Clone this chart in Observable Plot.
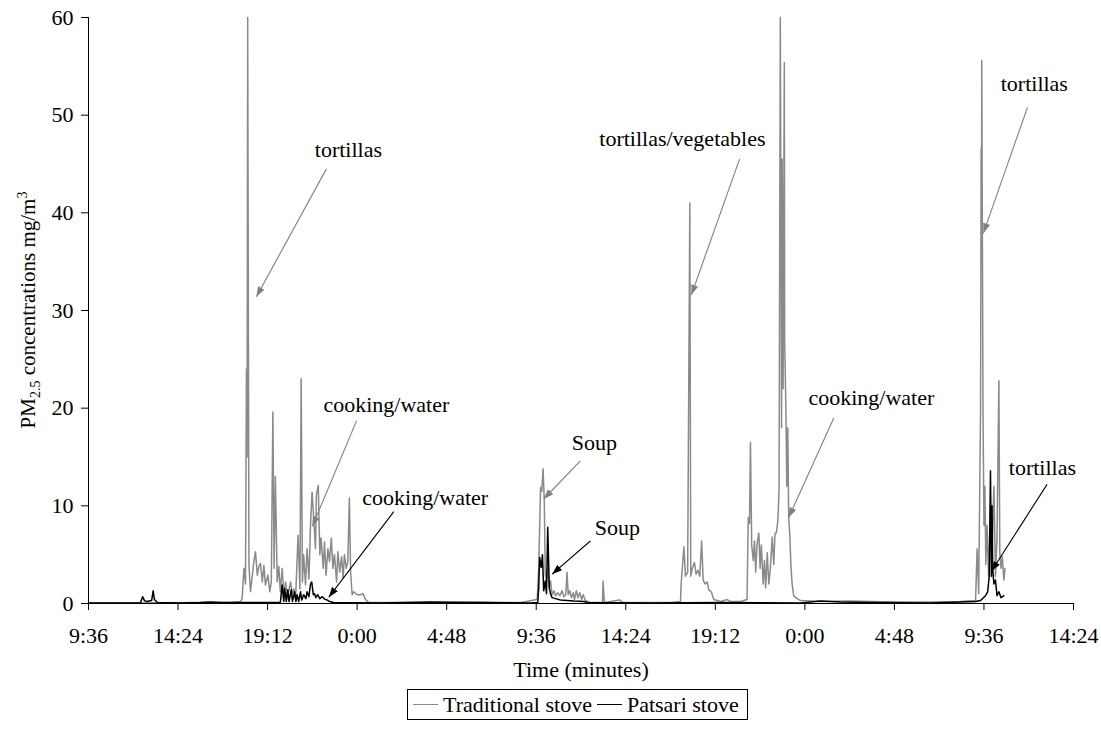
<!DOCTYPE html>
<html>
<head>
<meta charset="utf-8">
<script src="https://cdn.jsdelivr.net/npm/d3@7"></script>
<script src="https://cdn.jsdelivr.net/npm/@observablehq/plot@0.6"></script>
<style>
  body { margin: 0; background: #fff; font-family: 'Liberation Serif', 'Times New Roman', serif; }
  #chart svg { display: block; }
  #legend {
    margin-left: 407px; margin-top: 3px; width: 341px; height: 31px;
    box-sizing: border-box; border: 1px solid #000;
    display: flex; align-items: center; font-size: 22px; color: #000;
    white-space: nowrap;
  }
  .sw { display: inline-block; width: 25px; height: 0; margin: 0 5px 0 5px; }
</style>
</head>
<body>
<div id="chart"></div>
<div id="legend"></div>
<script>
// ---- data: minutes elapsed since 9:36 on day 1, PM2.5 in mg/m3 ----
const seriesNames = ["Traditional stove", "Patsari stove"];
const seriesColors = ["#8a8a8a", "#000000"];

const traditional = [
[0,0.05],[103,0.05],[232,0.08],[360,0.1],[457,0.1],[489,0.2],[494,0.5],[500,3.6],[505,2],[508,24],[510,15],[512,60],[516,4],[521,1.2],
[532,4.3],[537,5.3],[543,2.9],[548,3.8],[553,4.1],[559,2.2],[564,3.9],[569,1.9],[577,2.9],[583,1.2],[588,2.2],[593,19.6],[597,3.6],
[601,13],[607,2.2],[612,3.8],[617,1.2],[623,3.6],[628,0.9],[634,2.2],[639,0.5],[650,2.2],[655,0.9],[660,1.5],[666,0.5],[674,7],
[680,1.5],[684,23],[688,2.2],[692,5],[698,1.9],[703,5.6],[709,2.5],[714,8],[719,11.4],[725,8.4],[730,5.6],[733,11.1],[739,12.1],
[744,5],[748,6.7],[755,3.6],[759,6.3],[764,2.9],[770,5.6],[775,4.3],[781,6.7],[786,3.6],[791,5],[798,2.2],[802,5.3],[808,3.2],
[814,4.8],[819,2.6],[823,5],[829,3.6],[834,4.3],[839,10.8],[843,3.2],[848,0.9],[853,1.2],[864,0.9],[875,0.9],[883,1.0],[891,0.4],
[901,0.1],[939,0.1],[1068,0.1],[1196,0.15],[1261,0.15],[1325,0.1],[1389,0.1],[1421,0.27],[1443,0.4],[1448,3.7],[1454,11.9],
[1458,11.5],[1462,13.8],[1466,10.5],[1469,3],[1473,2.3],[1477,3.7],[1482,1.6],[1486,2.3],[1491,0.9],[1497,1.3],[1502,0.8],
[1509,1.1],[1516,0.8],[1523,1.3],[1529,0.7],[1535,0.9],[1539,3.2],[1543,0.9],[1548,1.3],[1553,0.6],[1559,1.1],[1563,0.4],
[1569,1.3],[1574,0.6],[1580,1.1],[1586,0.4],[1591,0.9],[1598,0.3],[1614,0.1],[1653,0.1],[1655,2.3],[1659,0.1],[1709,0.35],
[1717,0.1],[1807,0.1],[1872,0.1],[1904,0.2],[1906,2],[1915,5.8],[1920,2.8],[1927,3.2],[1934,41],[1937,2.8],[1942,3.6],[1949,4.2],
[1954,3],[1960,3.4],[1966,2.8],[1972,6.4],[1977,2.4],[1983,2],[1990,2.2],[1995,1.4],[2003,1.2],[2011,0.4],[2033,0.2],[2054,0.4],
[2065,0.2],[2097,0.2],[2118,0.4],[2122,8.8],[2126,8.2],[2129,16.5],[2133,6],[2138,4.4],[2142,6.4],[2146,3.2],[2150,6],[2156,7.2],
[2160,3.6],[2164,6],[2170,2],[2174,4.4],[2178,1.6],[2183,5.2],[2188,2],[2193,3.6],[2199,6.8],[2204,4],[2208,7.2],[2212,7.2],
[2217,8.4],[2221,11.6],[2225,60],[2229,18],[2231,45.5],[2234,22],[2238,55.4],[2239,27],[2243,20],[2246,12],[2249,18],[2252,8.8],
[2256,6.8],[2259,4],[2263,2],[2268,0.8],[2279,0.5],[2290,0.3],[2354,0.2],[2451,0.25],[2515,0.2],[2611,0.15],[2708,0.15],[2804,0.2],
[2853,0.3],[2858,5.6],[2863,1.0],[2869,19.5],[2871,46.7],[2872,37.5],[2873,55.6],[2875,37],[2877,19.5],[2880,8],[2883,12],[2886,4],
[2890,8],[2895,2.8],[2901,10],[2906,5.2],[2912,12],[2917,2.8],[2922,6.8],[2928,22.8],[2931,5.2],[2935,3.6],[2939,4.8],[2944,2.4],[2948,3.6]
];

const patsari = [
[0,0.05],[167,0.05],[174,0.7],[180,0.3],[187,0.2],[203,0.3],[208,1.3],[212,0.4],[222,0.1],[296,0.05],[360,0.1],[392,0.15],[425,0.1],
[617,0.1],[623,1.9],[628,0.2],[631,1.5],[636,0.2],[641,1.4],[645,0.2],[652,1.4],[656,0.2],[663,1.2],[667,0.2],[671,0.9],[676,0.2],
[682,1.2],[686,0.35],[692,0.9],[699,0.5],[703,1.2],[709,0.7],[714,2.0],[718,2.2],[723,0.9],[727,1.0],[731,0.6],[737,0.9],[744,0.5],
[752,0.7],[759,0.45],[768,0.35],[776,0.2],[789,0.1],[939,0.05],[1100,0.15],[1196,0.1],[1421,0.05],[1445,0.1],[1448,1.6],[1451,4.7],
[1456,3.7],[1460,5],[1464,1.3],[1469,2.3],[1473,1],[1477,7.8],[1482,1.6],[1486,1],[1491,0.6],[1502,0.5],[1518,0.35],[1539,0.3],
[1561,0.25],[1593,0.2],[1604,0.1],[1807,0.05],[2033,0.1],[2290,0.05],[2354,0.25],[2418,0.15],[2515,0.1],[2708,0.05],[2804,0.15],
[2853,0.2],[2869,0.3],[2885,0.8],[2892,1.2],[2897,2.8],[2901,13.6],[2904,2.8],[2906,10],[2908,3.6],[2912,2],[2917,2.4],[2922,0.8],
[2928,1.2],[2935,0.6],[2944,0.8]
];

const tickLabels = ["9:36","14:24","19:12","0:00","4:48","9:36","14:24","19:12","0:00","4:48","9:36","14:24"];
const tickStepMinutes = 288;
const yTicks = [0, 10, 20, 30, 40, 50, 60];

// annotations: label position (tx, ty), arrow from (x1,y1) to tip (x2,y2), series index for colour
const annLabels = ["tortillas","cooking/water","cooking/water","Soup","Soup","tortillas/vegetables","cooking/water","tortillas","tortillas"];
const annText   = [[836,46.4],[958,20.3],[1083,10.8],[1627,16.4],[1701,7.7],[1910,47.6],[2518,21.0],[3042,53.2],[3068,13.9]];
const annFrom   = [[765,44.5],[862,18.7],[982,9.4],[1582,14.6],[1614,6.4],[2094,45.5],[2397,19.0],[3020,50.8],[3083,12.2]];
const annTo     = [[540,31.4],[720,7.9],[773,0.65],[1464,10.7],[1491,3.0],[1939,31.6],[2252,8.8],[2878,37.9],[2904,3.3]];
const annSeries = [0,0,1,0,1,0,0,0,1];

// ---- layout ----
const W = 1101, H = 686, ML = 88, MR = 28, MT = 17, MB = 83;
const FS = 22;
const xDomain = [0, tickStepMinutes * (tickLabels.length - 1)];
const yDomain = [0, 60];
const tickMinutes = tickLabels.map((_, i) => i * tickStepMinutes);

// same linear mapping Plot uses, only to orient arrowheads on screen
const sx = d3.scaleLinear(xDomain, [ML, W - MR]);
const sy = d3.scaleLinear(yDomain, [H - MB, MT]);

const ann = annLabels.map((label, i) => {
  const dx = sx(annTo[i][0]) - sx(annFrom[i][0]);
  const dy = sy(annTo[i][1]) - sy(annFrom[i][1]);
  return {
    label, tx: annText[i][0], ty: annText[i][1],
    x1: annFrom[i][0], y1: annFrom[i][1], x2: annTo[i][0], y2: annTo[i][1],
    color: annSeries[i] === 1 ? "#000" : "#808080",
    angle: Math.atan2(dx, -dy) * 180 / Math.PI
  };
});

const arrowHead = {
  draw(ctx) { ctx.moveTo(0, 0); ctx.lineTo(-3.6, 10); ctx.lineTo(3.6, 10); ctx.closePath(); }
};

const chart = Plot.plot({
  width: W, height: H,
  marginLeft: ML, marginRight: MR, marginTop: MT, marginBottom: MB,
  style: { fontFamily: "'Liberation Serif', 'Times New Roman', serif", fontSize: FS + "px", background: "#fff", color: "#000" },
  x: { domain: xDomain },
  y: { domain: yDomain },
  marks: [
    Plot.line(traditional, { x: d => d[0], y: d => d[1], stroke: seriesColors[0], strokeWidth: 1.5 }),
    Plot.line(patsari, { x: d => d[0], y: d => d[1], stroke: seriesColors[1], strokeWidth: 1.5 }),
    Plot.ruleY([0], { x1: xDomain[0], x2: xDomain[1], stroke: "#000", strokeWidth: 1 }),
    Plot.ruleX([0], { y1: yDomain[0], y2: yDomain[1], stroke: "#000", strokeWidth: 1 }),
    Plot.axisX({ ticks: tickMinutes, tickFormat: (d, i) => tickLabels[i], tickSize: 7, tickPadding: 17, label: null, fontSize: FS }),
    Plot.axisY({ ticks: yTicks, tickSize: 7, tickPadding: 8, label: null, fontSize: FS }),
    Plot.link(ann, { x1: "x1", y1: "y1", x2: "x2", y2: "y2", stroke: "color", strokeWidth: 1.1 }),
    Plot.dot(ann, { x: "x2", y: "y2", symbol: arrowHead, fill: "color", stroke: "none", rotate: "angle", r: 4 }),
    Plot.text(ann, { x: "tx", y: "ty", text: "label", fill: "#000", fontSize: FS }),
    Plot.text(["Time (minutes)"], { frameAnchor: "bottom", dy: 73, fill: "#000", fontSize: FS })
  ]
});

// rotated y-axis title with subscript and superscript
const svg = d3.select(chart);
const yt = svg.append("text")
  .attr("transform", `translate(35,${(MT + H - MB) / 2}) rotate(-90)`)
  .attr("text-anchor", "middle")
  .attr("fill", "#000")
  .style("font-size", "21px");
yt.append("tspan").text("PM");
yt.append("tspan").attr("dy", 5).style("font-size", "14px").text("2.5");
yt.append("tspan").attr("dy", -5).text(" concentrations mg/m");
yt.append("tspan").attr("dy", -8).style("font-size", "14px").text("3");

document.getElementById("chart").appendChild(chart);

// legend below the chart
const legend = d3.select("#legend");
seriesNames.forEach((name, i) => {
  legend.append("span").attr("class", "sw").style("border-top", `1.5px solid ${seriesColors[i]}`);
  legend.append("span").text(name);
});
</script>
</body>
</html>
